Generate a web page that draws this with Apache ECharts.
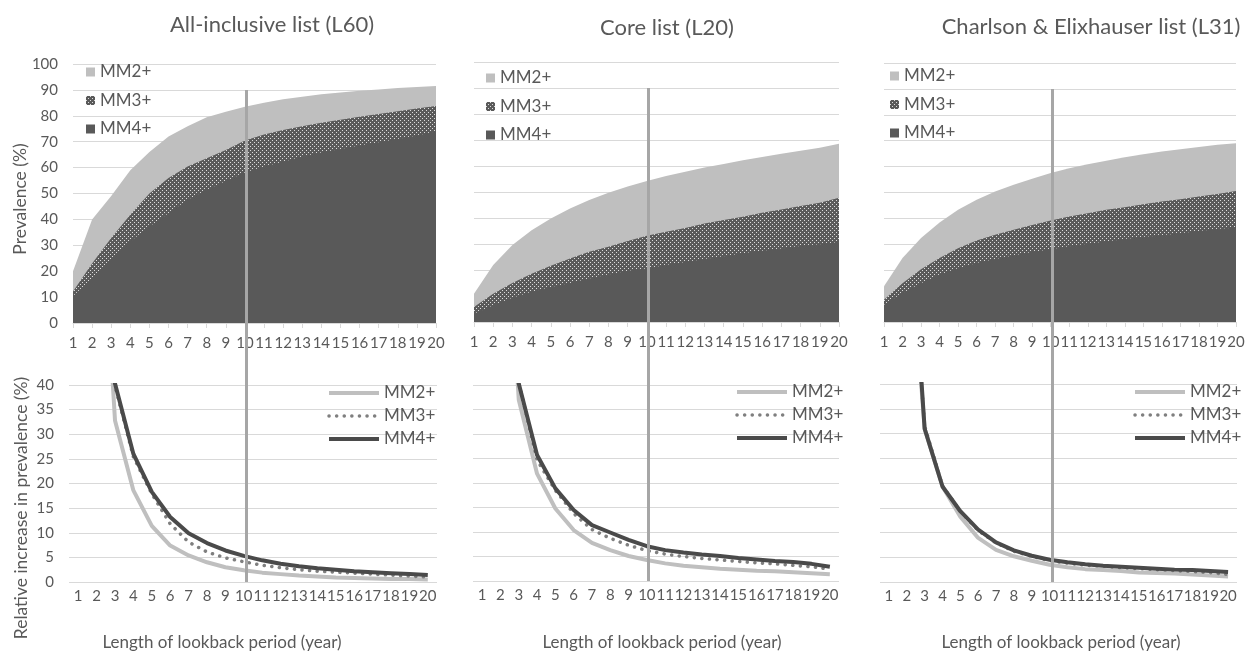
<!DOCTYPE html>
<html>
<head>
<meta charset="utf-8">
<script src="https://cdn.jsdelivr.net/npm/echarts@6/dist/echarts.min.js"></script>
<style>
  html, body { margin: 0; padding: 0; background: #fff; }
  #main { width: 1252px; height: 656px; }
</style>
</head>
<body>
<div id="main"></div>
<script>
var years = ['1','2','3','4','5','6','7','8','9','10','11','12','13','14','15','16','17','18','19','20'];

// prevalence (%) - All-inclusive list (L60)
var l60Mm2 = [20, 40, 49, 59, 66, 72, 76, 79.4, 81.6, 83.5, 85, 86.4, 87.4, 88.3, 89, 89.7, 90.2, 90.7, 91.1, 91.5];
var l60Mm3 = [12.2, 23, 32.8, 41.8, 50, 56, 60.4, 63.6, 66.8, 70.5, 72.8, 74.5, 76, 77.3, 78.5, 79.6, 80.7, 81.8, 82.8, 83.8];
var l60Mm4 = [10.3, 17.4, 24.4, 31.5, 37.3, 42.4, 47.6, 51.4, 54.8, 58.1, 60.4, 62.3, 64.3, 65.8, 67.2, 68.5, 69.8, 71, 72.4, 74];
// Core list (L20)
var l20Mm2 = [10.9, 21.9, 29.6, 35.3, 39.8, 43.7, 46.9, 49.7, 52.1, 54.2, 56.2, 57.8, 59.4, 60.8, 62.2, 63.5, 64.7, 65.9, 67, 68.6];
var l20Mm3 = [5.8, 10.9, 15, 18.6, 21.6, 24.4, 27, 28.9, 31.2, 33.2, 34.7, 36.2, 37.9, 39.2, 40.5, 42, 43.3, 44.6, 45.9, 47.8];
var l20Mm4 = [3.2, 6.4, 9.3, 11.6, 13.5, 15, 16.7, 18.3, 19.7, 20.6, 21.9, 23.1, 24.2, 25.3, 26.4, 27.4, 28.3, 29.2, 29.9, 30.8];
// Charlson & Elixhauser list (L31)
var l31Mm2 = [13.8, 24.7, 32.4, 38.4, 43.3, 47.2, 50.4, 53, 55.3, 57.5, 59.4, 60.9, 62.3, 63.6, 64.8, 65.8, 66.7, 67.6, 68.4, 69];
var l31Mm3 = [8.6, 15, 20.4, 24.7, 28.5, 31.5, 33.7, 35.6, 37.5, 39.2, 40.7, 42, 43.3, 44.3, 45.5, 46.5, 47.4, 48.5, 49.4, 50.6];
var l31Mm4 = [6.7, 11.2, 15, 18.3, 20.8, 22.8, 24.3, 25.7, 27, 28.1, 29.2, 30.2, 31.1, 32, 32.8, 33.5, 34.3, 35.1, 35.9, 36.5];

// relative increase in prevalence (%), year 2 is off the scale
var l60Rel2 = [null, 95, 32.8, 18.6, 11.4, 7.4, 5.4, 4, 3, 2.4, 1.9, 1.6, 1.3, 1.1, 0.9, 0.8, 0.7, 0.6, 0.6, 0.5];
var l60Rel3 = [null, 85, 39.8, 25.4, 17.9, 11.8, 8.1, 6.1, 4.9, 4.1, 3.4, 2.9, 2.5, 2.2, 2.0, 1.8, 1.6, 1.4, 1.2, 1.0];
var l60Rel4 = [null, 70, 40.3, 26, 18.3, 13.2, 9.9, 7.9, 6.4, 5.3, 4.4, 3.7, 3.2, 2.8, 2.5, 2.2, 2.0, 1.8, 1.6, 1.4];
var l20Rel2 = [null, 100, 37, 21.9, 14.8, 10.4, 7.8, 6.3, 5.1, 4.3, 3.6, 3.1, 2.8, 2.5, 2.3, 2.1, 2.0, 1.8, 1.6, 1.4];
var l20Rel3 = [null, 88, 40.5, 24.7, 18.5, 13.8, 10.5, 8.7, 7.3, 6.2, 5.5, 5.0, 4.6, 4.3, 4.0, 3.7, 3.5, 3.2, 2.9, 2.4];
var l20Rel4 = [null, 100, 40.3, 25.7, 18.9, 14.5, 11.4, 9.9, 8.4, 7.1, 6.3, 5.8, 5.4, 5.1, 4.7, 4.4, 4.1, 3.9, 3.5, 2.9];
var l31Rel2 = [null, 78, 31, 19.3, 13.2, 8.9, 6.5, 5.2, 4.3, 3.5, 3.0, 2.6, 2.4, 2.2, 1.9, 1.8, 1.7, 1.5, 1.3, 1.1];
var l31Rel3 = [null, 80, 31.5, 19.4, 14.3, 10.4, 7.9, 6.2, 5.2, 4.3, 3.8, 3.4, 3.2, 2.9, 2.7, 2.5, 2.3, 2.1, 1.9, 1.5];
var l31Rel4 = [null, 85, 31, 19.3, 14.3, 10.6, 8.0, 6.4, 5.3, 4.5, 4.0, 3.6, 3.3, 3.1, 2.9, 2.7, 2.5, 2.4, 2.2, 2.0];

var panelTitles = ['All-inclusive list (L60)', 'Core list (L20)', 'Charlson & Elixhauser list (L31)'];
var prevData = [[l60Mm2, l60Mm3, l60Mm4], [l20Mm2, l20Mm3, l20Mm4], [l31Mm2, l31Mm3, l31Mm4]];
var relData = [[l60Rel2, l60Rel3, l60Rel4], [l20Rel2, l20Rel3, l20Rel4], [l31Rel2, l31Rel3, l31Rel4]];
var names = ['MM2+', 'MM3+', 'MM4+'];

var FONT = 'Lato';
var TXT = '#595959';
var GRIDC = '#d9d9d9';
var LIGHT = '#bfbfbf', DARK = '#595959';

// dotted fill for MM3+
function dotPattern() {
  var c = document.createElement('canvas');
  c.width = 4; c.height = 4;
  var g = c.getContext('2d');
  g.fillStyle = '#5a5a5a';
  g.fillRect(0, 0, 4, 4);
  g.fillStyle = '#dcdcdc';
  g.fillRect(0, 0, 1, 1);
  g.fillRect(2, 2, 1, 1);
  return c;
}
var dots = { image: dotPattern(), repeat: 'repeat' };
var areaColors = [LIGHT, dots, DARK];

var topGrids = [
  { left: 73, width: 363, top: 64, height: 259 },
  { left: 474, width: 365, top: 62, height: 260 },
  { left: 884, width: 352, top: 63, height: 259 }
];
var botGrids = [
  { left: 69, width: 368, top: 385, height: 197 },
  { left: 473, width: 366, top: 385, height: 196 },
  { left: 880, width: 357, top: 384, height: 198 }
];
var titlePos = [[267, 9], [662, 12], [1086, 11]];
var topLegendPos = [[86, 63], [486, 69], [890, 67]];
var botLegendPos = [[327, 384], [735, 383], [1133, 383]];
var xNamePos = [[222, 643], [662, 643], [1061, 643]];

var lineStyles = [
  { color: LIGHT, width: 4 },
  { color: '#7f7f7f', width: 3.5, type: [0.1, 7.5], cap: 'round' },
  { color: '#4a4a4a', width: 4 }
];

var grid = [], xAxis = [], yAxis = [], series = [], legend = [], title = [], graphic = [];

for (var p = 0; p < 3; p++) {
  grid.push(Object.assign({ outerBoundsMode: 'none' }, topGrids[p]));
  grid.push(Object.assign({ outerBoundsMode: 'none' }, botGrids[p]));
  var ti = p * 2, bi = p * 2 + 1;

  xAxis.push({
    gridIndex: ti, type: 'category', data: years, boundaryGap: false,
    axisLine: { lineStyle: { color: GRIDC, width: 1 } },
    axisTick: { show: true, length: 5, lineStyle: { color: GRIDC } },
    axisLabel: { interval: 0, color: TXT, fontSize: 15, fontFamily: FONT, margin: 13 }
  });
  yAxis.push({
    gridIndex: ti, type: 'value', min: 0, max: 100, interval: 10,
    axisLine: { show: false }, axisTick: { show: false },
    axisLabel: { show: p === 0, color: TXT, fontSize: 15, fontFamily: FONT, margin: 15 },
    splitLine: { lineStyle: { color: GRIDC, width: 1 } }
  });
  xAxis.push({
    gridIndex: bi, type: 'category', data: years, boundaryGap: true,
    axisLine: { show: false }, axisTick: { show: false },
    axisLabel: { interval: 0, color: TXT, fontSize: 15, fontFamily: FONT, margin: 7 }
  });
  yAxis.push({
    gridIndex: bi, type: 'value', min: 0, max: 40, interval: 5,
    axisLine: { show: false }, axisTick: { show: false },
    axisLabel: { show: p === 0, color: TXT, fontSize: 15, fontFamily: FONT, margin: 15 },
    splitLine: { lineStyle: { color: GRIDC, width: 1 } }
  });

  for (var k = 0; k < 3; k++) {
    series.push({
      name: names[k], type: 'line', xAxisIndex: ti, yAxisIndex: ti,
      data: prevData[p][k], symbol: 'none', silent: true,
      itemStyle: { color: areaColors[k] },
      lineStyle: { width: 0 },
      areaStyle: { color: areaColors[k], opacity: 1 }
    });
  }
  for (var k2 = 0; k2 < 3; k2++) {
    series.push({
      name: names[k2] + ' ', type: 'line', xAxisIndex: bi, yAxisIndex: bi,
      data: relData[p][k2], symbol: 'none', silent: true, clip: true,
      itemStyle: { color: lineStyles[k2].color },
      lineStyle: lineStyles[k2]
    });
  }

  title.push({
    text: panelTitles[p], left: titlePos[p][0], top: titlePos[p][1], textAlign: 'center',
    textStyle: { color: TXT, fontSize: 22, fontWeight: 'normal', fontFamily: FONT }
  });

  legend.push({
    orient: 'vertical', left: topLegendPos[p][0], top: topLegendPos[p][1],
    itemWidth: 9, itemHeight: 9, itemGap: 10.5, itemTextGap: 5, padding: 0, selectedMode: false,
    textStyle: { color: TXT, fontSize: 17, fontFamily: FONT, lineHeight: 18 },
    data: names.map(function (n, i) { return { name: n, icon: 'rect', itemStyle: { color: areaColors[i] } }; })
  });
  legend.push({
    orient: 'vertical', left: botLegendPos[p][0], top: botLegendPos[p][1],
    itemWidth: 50, itemHeight: 14, itemGap: 5, itemTextGap: 3, padding: 0, selectedMode: false,
    textStyle: { color: TXT, fontSize: 17, fontFamily: FONT, lineHeight: 18 },
    itemStyle: { color: 'rgba(0,0,0,0)', borderWidth: 0, opacity: 0 },
    formatter: function (n) { return n.trim(); },
    data: names.map(function (n, i) {
      return { name: n + ' ', itemStyle: { color: 'rgba(0,0,0,0)', borderWidth: 0, opacity: 0 }, lineStyle: lineStyles[i] };
    })
  });

  graphic.push({
    type: 'text', x: xNamePos[p][0], y: xNamePos[p][1],
    style: { text: 'Length of lookback period (year)', fill: TXT, font: '17px ' + FONT, textAlign: 'center', textVerticalAlign: 'middle' }
  });
}

graphic.push({
  type: 'text', x: 20, y: 199, rotation: Math.PI / 2,
  style: { text: 'Prevalence (%)', fill: TXT, font: '17.5px ' + FONT, textAlign: 'center', textVerticalAlign: 'middle' }
});
graphic.push({
  type: 'text', x: 21, y: 508, rotation: Math.PI / 2,
  style: { text: 'Relative increase in prevalence (%)', fill: TXT, font: '17.5px ' + FONT, textAlign: 'center', textVerticalAlign: 'middle' }
});

var chart = echarts.init(document.getElementById('main'), null, { renderer: 'canvas' });
chart.setOption({
  animation: false,
  backgroundColor: '#fff',
  title: title, legend: legend, grid: grid, xAxis: xAxis, yAxis: yAxis,
  series: series, graphic: graphic
});

// vertical marker at year 10, from 90 % in the top panel down to 0 of the bottom panel
var marks = [];
for (var q = 0; q < 3; q++) {
  var a = chart.convertToPixel({ xAxisIndex: q * 2, yAxisIndex: q * 2 }, ['10', 90]);
  var b = chart.convertToPixel({ xAxisIndex: q * 2 + 1, yAxisIndex: q * 2 + 1 }, ['10', 0]);
  var x = Math.round(a[0]) + 1.5;
  marks.push({ type: 'line', z: 100, shape: { x1: x, y1: a[1], x2: x, y2: b[1] }, style: { stroke: '#a6a6a6', lineWidth: 3 } });
}
chart.setOption({ graphic: graphic.concat(marks) });
</script>
</body>
</html>
